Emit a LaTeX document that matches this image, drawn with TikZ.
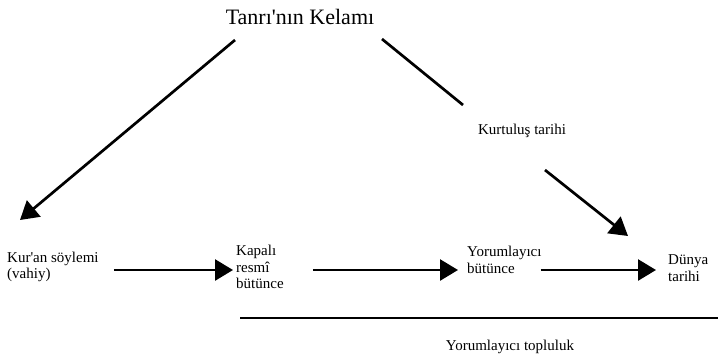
\documentclass[tikz,border=0pt]{standalone}
\usepackage{fontspec}
\setmainfont{Liberation Serif}
\usetikzlibrary{arrows.meta, positioning}

\begin{document}
\begin{tikzpicture}[x=1pt, y=-1pt]

\tikzstyle{every node}=[inner sep=1pt, font=\fontsize{15}{16.5}\selectfont]
\tikzstyle{box}=[anchor=west, align=left]
\tikzstyle{pil}=[line width=2.7pt, -{Triangle[length=18pt, width=21pt]}]
\tikzstyle{bar}=[line width=2.7pt]

\useasboundingbox (0,0) rectangle (718,357);

\node[font=\fontsize{22}{24}\selectfont] (kelam) at (300,17) {Tanr\i\textquotesingle n\i n Kelam\i};
\node (kurtulus) at (522,131) {Kurtulu\c{s} tarihi};

\node[box] (kuran) at (6,267) {Kur\textquotesingle an s\"oylemi\\(vahiy)};
\node[box] (kapali) at (235,267) {Kapal\i\\resm\^{\i}\\b\"ut\"unce};
\node[box] (yorum) at (466,260) {Yorumlay\i c\i\\b\"ut\"unce};
\node[box] (dunya) at (667,268) {D\"unya\\tarihi};
\node (topluluk) at (510,347) {Yorumlay\i c\i{} topluluk};

\coordinate (k1) at (235,40);
\coordinate (k2) at (382,39);
\coordinate (kur) at (20,220);
\coordinate (kt) at (463,105);
\coordinate (kd) at (545,170);
\coordinate (dt) at (628,236);
\coordinate (t1) at (240,318);
\coordinate (t2) at (718,318);

\draw[pil] (k1) -- (kur);
\draw[bar] (k2) -- (kt);
\draw[pil] (kd) -- (dt);

\draw[pil, shorten <=14pt, shorten >=2pt] (kuran.east |- 0,270) -- (kapali.west |- 0,270);
\draw[pil, shorten <=28pt, shorten >=8pt] (kapali.east |- 0,270) -- (yorum.west |- 0,270);
\draw[pil, shorten <=-2pt, shorten >=11pt] (yorum.east |- 0,270) -- (dunya.west |- 0,270);

\draw[bar, line width=2pt] (t1) -- (t2);

\end{tikzpicture}
\end{document}
